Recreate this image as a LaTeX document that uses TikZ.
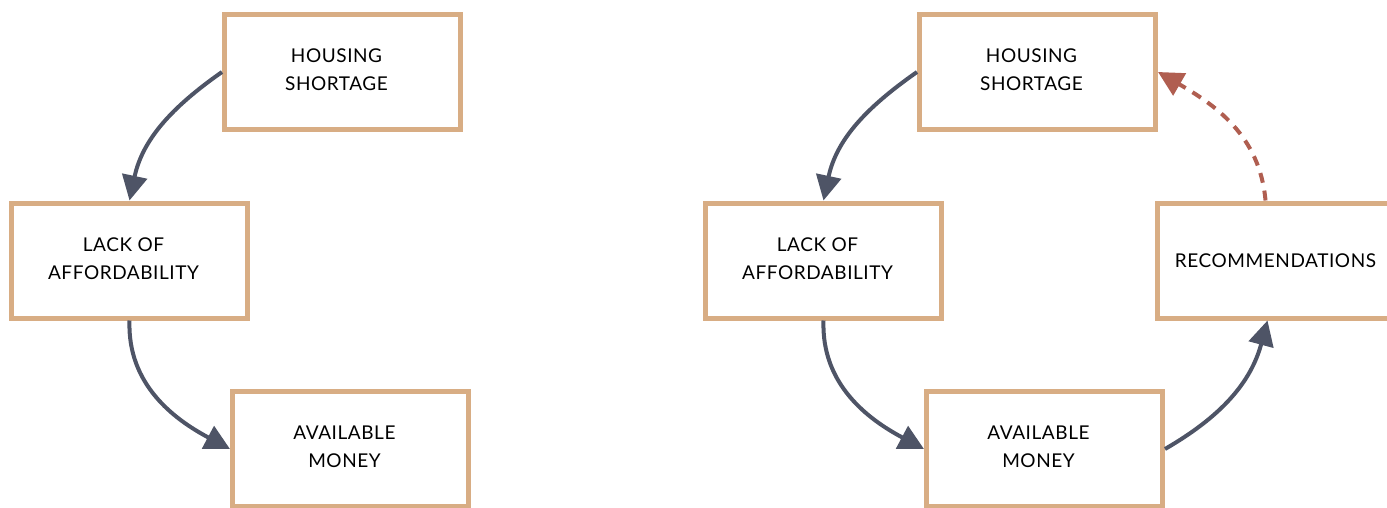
\documentclass[tikz,border=0pt]{standalone}
\usepackage{fontspec}
\setmainfont[LetterSpace=3]{Lato}
\usetikzlibrary{arrows.meta}
\definecolor{boxtan}{HTML}{D8AD84}
\definecolor{flowgray}{HTML}{4E5466}
\definecolor{backred}{HTML}{B05E50}
\tikzset{
  stepbox/.style={draw=boxtan, line width=5pt, fill=white, rectangle,
    minimum width=236pt, minimum height=115pt, inner sep=0pt, align=center,
    font=\fontsize{19}{28}\selectfont},
  boxtext/.style={align=center, inner sep=0pt, xshift=-6pt, yshift=2pt,
    font=\fontsize{19}{28}\selectfont},
  flow/.style={draw=flowgray, line width=4pt,
    -{Triangle[length=25pt,width=25pt]}},
  backflow/.style={draw=backred, line width=4pt, dash pattern=on 10pt off 8pt,
    -{Triangle[length=25pt,width=25pt]}},
}
\begin{document}
\begin{tikzpicture}[x=1pt,y=-1pt]
\useasboundingbox (0,0) rectangle (1387,508);
\clip (0,0) rectangle (1387,508);
% first cycle
\node[stepbox, label={[boxtext]center:HOUSING\\SHORTAGE}] (hs1) at (342.5,72) {};
\node[stepbox, label={[boxtext]center:LACK OF\\AFFORDABILITY}] (la1) at (129.5,260.5) {};
\node[stepbox, label={[boxtext]center:AVAILABLE\\MONEY}] (am1) at (350.5,449) {};
\draw[flow] (hs1.west) to[out=215,in=78] (la1.north);
\draw[flow] (la1.south) to[out=-92,in=152] (am1.west);
% second cycle with recommendations
\node[stepbox, label={[boxtext]center:HOUSING\\SHORTAGE}] (hs2) at (1037.5,72) {};
\node[stepbox, label={[boxtext]center:LACK OF\\AFFORDABILITY}] (la2) at (823.5,260.5) {};
\node[stepbox, label={[boxtext]center:AVAILABLE\\MONEY}] (am2) at (1044.5,449) {};
\node[stepbox] (rc2) at (1275.5,260.5) {RECOMMENDATIONS};
\draw[flow] (hs2.west) to[out=215,in=78] (la2.north);
\draw[flow] (la2.south) to[out=-92,in=152] (am2.west);
\draw[flow] (am2.east) to[out=30,in=-105] ([xshift=-8pt]rc2.south);
\draw[backflow] ([xshift=-10pt]rc2.north) to[out=95,in=-30] (hs2.east);
\end{tikzpicture}
\end{document}
